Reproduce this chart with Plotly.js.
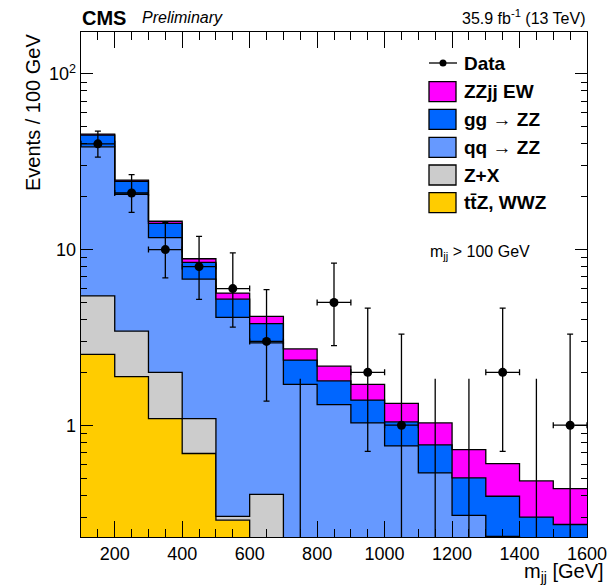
<!DOCTYPE html>
<html>
<head>
<meta charset="utf-8">
<script src="https://cdn.plot.ly/plotly-3.0.1.min.js"></script>
<style>html,body{margin:0;padding:0;background:#fff;}#chart{width:611px;height:585px;}</style>
</head>
<body>
<div id="chart"></div>
<script>
// ---- data (events per 100 GeV bin in m_jj) ----
const binCenters = [150,250,350,450,550,650,750,850,950,1050,1150,1250,1350,1450,1550];
const ttZWWZ = [2.53,1.89,1.09,0.69,0.288,0,0,0,0,0,0,0,0,0,0];
const zPlusX = [2.92,1.54,0.91,0.40,0.015,0.404,0,0,0,0,0,0,0,0,0];
const qqZZ   = [33.05,17.17,9.7,5.70,3.81,2.54,1.71,1.31,1.03,0.762,0.535,0.307,0.233,0.18,0.15];
const ggZZ   = [6.4,3.9,2.4,1.66,1.11,0.84,0.64,0.48,0.36,0.283,0.237,0.194,0.161,0.12,0.122];
const zzjjEW = [0.5,0.35,0.4,0.42,0.43,0.38,0.37,0.38,0.32,0.285,0.258,0.226,0.211,0.182,0.164];
const dataCounts = [40,21,10,8,6,3,0,5,2,1,0,0,2,0,1];
const dataUpper  = [47.3,26.7,14.3,11.9,9.58,5.92,1.84,8.38,4.64,3.30,1.84,1.84,4.64,1.84,3.30];
const dataLower  = [33.6,16.3,6.9,5.2,3.62,1.37,0,2.84,0.71,0.17,0,0,0.71,0,0.17];
const binWidth = 100;

const FLOOR = 1e-3;
const edges = binCenters.map(c => c - binWidth/2).concat([binCenters[binCenters.length-1] + binWidth/2]);
function cum(arrs){ return binCenters.map((_,i)=>arrs.reduce((s,a)=>s+a[i],0)); }
function stepY(vals){ const v = vals.map(x => x > 0 ? x : FLOOR); return v.concat([v[v.length-1]]); }

const layers = [
  {name:'ttZ', comps:[ttZWWZ], color:'#ffcc00'},
  {name:'ZX', comps:[ttZWWZ,zPlusX], color:'#cccccc'},
  {name:'qq', comps:[ttZWWZ,zPlusX,qqZZ], color:'#6699ff'},
  {name:'gg', comps:[ttZWWZ,zPlusX,qqZZ,ggZZ], color:'#0066ff'},
  {name:'EW', comps:[ttZWWZ,zPlusX,qqZZ,ggZZ,zzjjEW], color:'#ff00ff'}
];

const traces = [];
traces.push({x: edges, y: edges.map(()=>FLOOR), mode:'lines', line:{shape:'hv', width:0}, showlegend:false, hoverinfo:'skip'});
layers.forEach(L => {
  traces.push({x: edges, y: stepY(cum(L.comps)), mode:'lines', fill:'tonexty', fillcolor:L.color,
    line:{shape:'hv', color:'#000', width:1.3}, showlegend:false, hoverinfo:'skip'});
});

// zero-count bins: only upper error line
const zx = [], zy = [];
dataCounts.forEach((n,i) => { if (n === 0) { zx.push(binCenters[i], binCenters[i], null); zy.push(FLOOR, dataUpper[i], null); } });
traces.push({x: zx, y: zy, mode:'lines', line:{color:'#000', width:1.3}, showlegend:false, hoverinfo:'skip'});

// data points
const nz = dataCounts.map(n => n > 0);
traces.push({
  x: binCenters.filter((_,i)=>nz[i]),
  y: dataCounts.filter((_,i)=>nz[i]),
  mode:'markers', marker:{color:'#000', size:9},
  error_y:{type:'data', symmetric:false,
    array: dataUpper.map((u,i)=>u-dataCounts[i]).filter((_,i)=>nz[i]),
    arrayminus: dataLower.map((l,i)=>dataCounts[i]-l).filter((_,i)=>nz[i]),
    color:'#000', thickness:1.3, width:3},
  error_x:{type:'constant', value: binWidth/2, color:'#000', thickness:1.3, width:3},
  showlegend:false, hoverinfo:'skip'
});

// ---- layout helpers (pixel -> paper) ----
const L0 = 81, R0 = 587, T0 = 32, B0 = 537;
const px = p => (p - L0)/(R0 - L0);
const py = p => (B0 - p)/(B0 - T0);
const FONT = 'Liberation Sans, Arial, Helvetica, sans-serif';

const legendRows = [
  {label:'<b>ZZjj EW</b>', color:'#ff00ff', y:91.7},
  {label:'<b>gg</b> → <b>ZZ</b>', color:'#0066ff', y:119.3},
  {label:'<b>qq</b> → <b>ZZ</b>', color:'#6699ff', y:147.3},
  {label:'<b>Z+X</b>', color:'#cccccc', y:175},
  {label:'<b>tt\u0304Z, WWZ</b>', color:'#ffcc00', y:202.7}
];
const shapes = [];
const annotations = [];
legendRows.forEach(r => {
  shapes.push({type:'rect', xref:'paper', yref:'paper', x0:px(429), x1:px(456), y0:py(r.y+10), y1:py(r.y-10),
    fillcolor:r.color, line:{color:'#000', width:1.3}});
  annotations.push({xref:'paper', yref:'paper', x:px(462), y:py(r.y), xanchor:'left', yanchor:'middle',
    text:r.label, showarrow:false, font:{family:FONT, size:19, color:'#000'}});
});
shapes.push({type:'line', xref:'paper', yref:'paper', x0:px(429), x1:px(457), y0:py(63), y1:py(63), line:{color:'#000', width:1.3}});
shapes.push({type:'circle', xref:'paper', yref:'paper', x0:px(439.5), x1:px(446.5), y0:py(66.5), y1:py(59.5), fillcolor:'#000', line:{color:'#000', width:0}});
annotations.push({xref:'paper', yref:'paper', x:px(462), y:py(63), xanchor:'left', yanchor:'middle',
  text:'<b>Data</b>', showarrow:false, font:{family:FONT, size:19, color:'#000'}});
annotations.push({xref:'paper', yref:'paper', x:px(428), y:py(253), xanchor:'left', yanchor:'middle',
  text:'m<sub>jj</sub> > 100 GeV', showarrow:false, font:{family:FONT, size:16, color:'#000'}});
annotations.push({xref:'paper', yref:'paper', x:px(80), y:py(18), xanchor:'left', yanchor:'middle',
  text:'<b>CMS</b>', showarrow:false, font:{family:FONT, size:20, color:'#000'}});
annotations.push({xref:'paper', yref:'paper', x:px(140), y:py(18), xanchor:'left', yanchor:'middle',
  text:'<i>Preliminary</i>', showarrow:false, font:{family:FONT, size:16, color:'#000'}});
annotations.push({xref:'paper', yref:'paper', x:px(588), y:py(17), xanchor:'right', yanchor:'middle',
  text:'35.9 fb<sup>-1</sup> (13 TeV)', showarrow:false, font:{family:FONT, size:16, color:'#000'}});
annotations.push({xref:'paper', yref:'paper', x:px(606), y:py(572), xanchor:'right', yanchor:'middle',
  text:'m<sub>jj</sub> [GeV]', showarrow:false, font:{family:FONT, size:20, color:'#000'}});
annotations.push({xref:'paper', yref:'paper', x:px(32.5), y:py(32), xanchor:'center', yanchor:'top', textangle:-90,
  text:'Events / 100 GeV', showarrow:false, font:{family:FONT, size:20, color:'#000'}});

const minorY = [];
[0.1,1,10,100].forEach(d => { for (let k=2;k<=9;k++) minorY.push(k*d); });

const layout = {
  width:611, height:585,
  margin:{l:L0, r:611-R0, t:T0, b:585-B0},
  paper_bgcolor:'#fff', plot_bgcolor:'#fff',
  font:{family:FONT, size:18, color:'#000'},
  showlegend:false,
  xaxis:{range:[100,1600], tick0:0, dtick:200, ticks:'inside', ticklen:16, tickwidth:1, tickcolor:'#000',
    minor:{dtick:50, tick0:0, ticks:'inside', ticklen:8, tickwidth:1, tickcolor:'#000', showgrid:false},
    showline:true, linecolor:'#000', linewidth:1.3, mirror:'allticks', showgrid:false, zeroline:false,
    tickfont:{family:FONT, size:18, color:'#000'}},
  yaxis:{type:'log', range:[-0.6365, 2.239], tickmode:'array', tickvals:[1,10,100], ticktext:['1','10','10<sup>2</sup>'],
    ticks:'inside', ticklen:12, tickwidth:1, tickcolor:'#000',
    minor:{tickmode:'array', tickvals:minorY, ticks:'inside', ticklen:6, tickwidth:1, tickcolor:'#000', showgrid:false},
    showline:true, linecolor:'#000', linewidth:1.3, mirror:'allticks', showgrid:false, zeroline:false,
    tickfont:{family:FONT, size:18, color:'#000'}},
  shapes:shapes, annotations:annotations
};

Plotly.newPlot('chart', traces, layout, {staticPlot:true, displayModeBar:false});
</script>
</body>
</html>
